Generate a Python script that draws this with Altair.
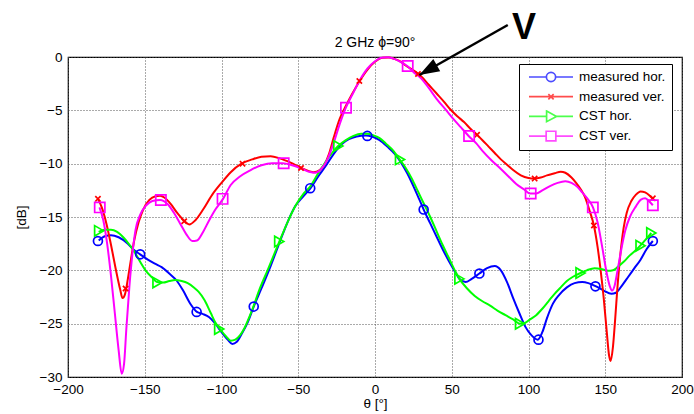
import altair as alt
import pandas as pd

# ---------------- data ----------------
series_names = ["measured hor.", "measured ver.", "CST hor.", "CST ver."]
series_colors = ["#0000FF", "#FF0000", "#00FF00", "#FF00FF"]

meas_hor = [
    (-180, -17.2), (-176, -16.8), (-172, -16.7), (-167, -16.9), (-161, -17.5), (-157, -18.1),
    (-153, -18.5), (-148, -19.0), (-143, -19.4), (-139, -19.7), (-134, -20.3), (-129, -21.0),
    (-125, -21.9), (-120, -23.2), (-116, -23.9), (-112, -24.1), (-108, -24.4), (-104, -25.0),
    (-100, -25.8), (-96, -26.5), (-93, -26.9), (-90, -26.7), (-87, -26.0), (-83, -24.9),
    (-79, -23.4), (-74, -21.7), (-68, -19.6), (-63, -17.7), (-57, -15.5), (-52, -14.0),
    (-47, -13.1), (-42, -12.3), (-37, -11.2), (-32, -10.2), (-27, -9.1), (-22, -8.2),
    (-17, -7.7), (-12, -7.45), (-6, -7.35), (-2, -7.45), (3, -7.8), (8, -8.4), (13, -9.1),
    (17, -9.9), (21, -10.9), (25, -12.1), (29, -13.4), (32, -14.4), (36, -15.6), (40, -16.8),
    (44, -18.0), (48, -19.1), (52, -20.1), (55, -20.8), (59, -21.1), (63, -20.8), (68, -20.3),
    (73, -19.8), (78, -19.6), (82, -20.0), (86, -21.1), (90, -22.6), (94, -24.0), (98, -25.3),
    (102, -26.1), (106, -26.5), (109, -25.8), (112, -24.5), (116, -23.1), (120, -22.3),
    (125, -21.6), (130, -21.2), (135, -21.1), (139, -21.2), (144, -21.5), (149, -21.9),
    (154, -22.2), (157, -22.1), (161, -21.4), (165, -20.6), (169, -19.8), (173, -19.0),
    (177, -18.0), (181, -17.25),
]
meas_ver = [
    (-180.5, -13.3), (-178, -14.1), (-175, -15.6), (-172, -17.6), (-169, -19.8), (-166, -21.8),
    (-164.5, -22.6), (-163, -22.3), (-161, -20.8), (-159, -19.0), (-157, -17.3), (-154, -15.5),
    (-151, -14.3), (-147, -13.4), (-143, -13.05), (-140, -13.0), (-137, -13.2), (-133, -13.8),
    (-129, -14.6), (-124, -15.4), (-121, -15.7), (-117, -15.3), (-112, -14.3), (-106, -12.9),
    (-100, -11.8), (-94, -10.8), (-87, -10.0), (-80, -9.6), (-74, -9.35), (-68, -9.3),
    (-62, -9.5), (-55, -9.9), (-48, -10.4), (-43, -10.7), (-40, -10.8), (-36, -10.6),
    (-33, -10.1), (-30, -9.1), (-27, -7.6), (-23, -5.8), (-19, -4.6), (-15, -3.5), (-10, -2.25),
    (-5, -1.2), (0, -0.45), (5, -0.08), (9, -0.05), (13, -0.2), (17, -0.45), (20, -0.8),
    (25, -1.25), (30, -1.8), (35, -2.6), (40, -3.4), (45, -4.2), (49, -4.9), (54, -5.6),
    (58, -6.1), (62, -6.7), (66.5, -7.3), (70, -7.8), (74, -8.4), (78, -9.0), (82, -9.6),
    (86, -10.1), (90, -10.6), (95, -11.1), (100, -11.35), (104, -11.4), (108, -11.3),
    (112, -11.1), (117, -10.9), (121, -10.75), (124, -10.85), (128, -11.3), (131, -11.8),
    (134, -12.4), (137, -13.2), (140, -14.5), (142.6, -15.8), (145, -17.8), (147, -20.0),
    (149, -22.6), (151, -25.8), (152.5, -28.0), (153.5, -28.5), (155, -27.2), (156.5, -24.5),
    (158, -21.5), (160, -18.3), (162, -16.0), (164, -14.6), (167, -13.5), (170, -12.9),
    (173, -12.6), (176, -12.7), (179, -13.0), (181, -13.3),
]
cst_hor = [
    (-180, -16.4), (-176, -16.2), (-172, -16.2), (-168, -16.4), (-164, -16.9), (-160, -17.6),
    (-157, -18.2), (-153, -19.2), (-149, -20.1), (-145, -20.7), (-142, -21.1), (-138, -21.15),
    (-134, -21.0), (-130, -20.9), (-126, -21.0), (-122, -21.2), (-118, -21.6), (-115, -22.0),
    (-111, -22.8), (-107, -24.0), (-104, -24.9), (-101, -25.5), (-97, -26.2), (-94, -26.6),
    (-91, -26.5), (-88, -26.1), (-85, -25.4), (-80, -23.7), (-75, -21.7), (-70, -20.0),
    (-66, -18.6), (-62, -17.2), (-57, -15.5), (-52, -14.0), (-47, -12.9), (-42, -12.1),
    (-37, -10.9), (-32, -9.8), (-28, -9.0), (-24, -8.35), (-19, -7.8), (-14, -7.4), (-9, -7.2),
    (-5, -7.2), (-1, -7.35), (3, -7.6), (7, -8.1), (12, -8.8), (16, -9.6), (20, -10.4),
    (24, -11.4), (28, -12.6), (32, -13.8), (36, -15.0), (40, -16.3), (44, -17.6), (48, -18.8),
    (52, -20.0), (55, -20.8), (60, -21.7), (65, -22.4), (70, -22.9), (75, -23.3), (80, -23.8),
    (85, -24.2), (90, -24.6), (94.5, -25.0), (98, -24.9), (101, -24.6), (105, -24.2),
    (109, -23.6), (113, -22.9), (117, -22.2), (121, -21.6), (125, -21.0), (129, -20.6),
    (134, -20.25), (138, -20.0), (143, -19.8), (148, -19.9), (152, -20.05), (155, -20.0),
    (158, -19.7), (162, -19.2), (166, -18.6), (170, -18.1), (174, -17.5), (177, -17.0),
    (180, -16.5),
]
cst_ver = [
    (-179.5, -14.1), (-177, -15.3), (-174.5, -17.5), (-172, -20.5), (-169.5, -24.0),
    (-167, -27.5), (-165, -29.7), (-163.5, -28.8), (-162, -25.5), (-160, -21.5), (-158, -18.4),
    (-156, -16.2), (-153, -14.8), (-149, -13.9), (-145, -13.5), (-140, -13.4), (-135, -13.8),
    (-131, -14.6), (-127, -15.6), (-123, -16.6), (-119, -17.25), (-116, -17.2), (-112, -16.4),
    (-108, -15.3), (-104, -14.3), (-99, -13.3), (-94, -12.0), (-88, -11.2), (-81, -10.6),
    (-74, -10.15), (-67, -9.95), (-60, -9.95), (-54, -10.15), (-48, -10.45), (-43, -10.75),
    (-39, -10.85), (-35, -10.5), (-31, -9.6), (-27, -8.1), (-23, -6.3), (-19, -4.75),
    (-15, -3.6), (-10, -2.2), (-5, -1.1), (0, -0.4), (4, -0.08), (8, -0.02), (12, -0.15),
    (16, -0.4), (21, -0.85), (25, -1.4), (30, -2.0), (35, -2.9), (40, -3.9), (47, -5.1),
    (51, -5.8), (56, -6.6), (61, -7.4), (66, -8.1), (70, -8.8), (76, -9.7), (82, -10.5),
    (87, -11.2), (92, -11.9), (97, -12.4), (101, -12.8), (105, -12.8), (109, -12.5),
    (114, -12.1), (119, -11.8), (124, -11.65), (128, -11.8), (132, -12.2), (135, -12.7),
    (139, -13.4), (142, -14.1), (145, -15.5), (148, -17.8), (151, -20.3), (153, -21.5),
    (154.5, -21.9), (156, -21.5), (158, -20.0), (160.5, -18.0), (163, -16.3), (166, -15.0),
    (170, -14.0), (173, -13.4), (176, -13.25), (179, -13.6), (181, -13.9),
]

# marker positions (theta, dB)
meas_hor_markers = [(-180.5, -17.25), (-153, -18.5), (-116.2, -23.9), (-79, -23.4), (-42.2, -12.3),
                    (-5, -7.4), (31.7, -14.3), (68, -20.3), (106.5, -26.5), (143.6, -21.5), (181, -17.25)]
meas_ver_markers = [(-180.5, -13.3), (-162.5, -21.7), (-124.3, -15.4), (-86.3, -10.0), (-48.2, -10.4),
                    (-10.2, -2.25), (28, -1.6), (66.5, -7.3), (104, -11.4), (142.6, -15.8), (181, -13.25)]
cst_hor_markers = [(-179.7, -16.3), (-141.7, -21.15), (-101.5, -25.5), (-62.4, -17.3), (-23.9, -8.35),
                   (16.3, -9.6), (55, -20.8), (94.5, -25.0), (133.9, -20.25), (173, -17.7), (180, -16.5)]
cst_ver_markers = [(-179.3, -14.1), (-139.5, -13.4), (-99.3, -13.3), (-59.5, -9.97), (-18.9, -4.75),
                   (21.3, -0.85), (61.3, -7.4), (101.4, -12.8), (141.9, -14.1), (181, -13.9)]

x_ticks = [-200, -150, -100, -50, 0, 50, 100, 150, 200]
y_ticks = [-30, -25, -20, -15, -10, -5, 0]

title_text = "2 GHz \u03d5=90\u00b0"
title_pos = (0.0, 0.94)
x_title = "\u03b8 [\u00b0]"
y_title = "[dB]"

# annotation: arrow from (theta, dB) to tip, and the "V" label
arrow_start = (86.5, 3.0)
arrow_tip = (28.9, -1.69)
v_label = (97.0, 1.69, "V")

# ---------------- build chart ----------------
curves = [meas_hor, meas_ver, cst_hor, cst_ver]
markers = [meas_hor_markers, meas_ver_markers, cst_hor_markers, cst_ver_markers]

font = "Liberation Sans"
xs = alt.Scale(domain=[-200, 200], nice=False, zero=False)
ys = alt.Scale(domain=[-30, 0], nice=False, zero=False)
cs = alt.Scale(domain=series_names, range=series_colors)

x_axis = alt.Axis(values=x_ticks, title=x_title, grid=True, ticks=False, domain=False,
                  labelFont=font, labelFontSize=13.5, labelColor="black", labelPadding=5,
                  labelFlush=False,
                  titleFont=font, titleFontSize=13.5, titleFontWeight="normal", titleColor="black",
                  titleX=307, titleY=26, titleBaseline="middle", titleAlign="center")
y_axis = alt.Axis(values=y_ticks, title=y_title, grid=True, ticks=False, domain=False,
                  labelFont=font, labelFontSize=13.5, labelColor="black", labelPadding=6,
                  labelFlush=False,
                  titleFont=font, titleFontSize=13.5, titleFontWeight="normal", titleColor="black",
                  titleX=-47, titleY=160, titleAngle=270, titleBaseline="middle", titleAlign="center")

line_layers = []
for idx, (name, pts, col) in enumerate(zip(series_names, curves, series_colors)):
    ldf = pd.DataFrame({"theta": [p[0] for p in pts], "db": [p[1] for p in pts]})
    if idx == 0:
        enc_x = alt.X("theta:Q", scale=xs, axis=x_axis)
        enc_y = alt.Y("db:Q", scale=ys, axis=y_axis)
    else:
        enc_x = alt.X("theta:Q", scale=xs)
        enc_y = alt.Y("db:Q", scale=ys)
    line_layers.append(
        alt.Chart(ldf).mark_line(strokeWidth=2, interpolate="monotone", color=col).encode(
            x=enc_x, y=enc_y, order="theta:Q")
    )

x_path = "M-1,-1L1,1M-1,1L1,-1"
marker_shapes = ["circle", x_path, "triangle-right", "square"]
marker_sizes = [80, 28, 110, 105]
marker_layers = []
for name, pts, shp, sz, col in zip(series_names, markers, marker_shapes, marker_sizes, series_colors):
    mdf = pd.DataFrame({"theta": [p[0] for p in pts], "db": [p[1] for p in pts]})
    marker_layers.append(
        alt.Chart(mdf).mark_point(filled=False, strokeWidth=1.7, shape=shp, size=sz, color=col,
                                  opacity=1).encode(
            x=alt.X("theta:Q", scale=xs), y=alt.Y("db:Q", scale=ys))
    )

# legend-only layer (its points lie outside the domain and are clipped away)
legend_paths = [
    "M-1,0H-0.21M0.21,0H1M0.21,0A0.21,0.21 0 1,1 -0.21,0A0.21,0.21 0 1,1 0.21,0Z",
    "M-1,0H1M-0.12,-0.12L0.12,0.12M-0.12,0.12L0.12,-0.12",
    "M-1,0H-0.2M0.25,0H1M-0.2,-0.24L0.25,0L-0.2,0.24Z",
    "M-1,0H-0.22M0.22,0H1M-0.22,-0.22H0.22V0.22H-0.22Z",
]
leg_df = pd.DataFrame({"series": series_names, "theta": [-1000] * 4, "db": [-1000] * 4})
legend_layer = alt.Chart(leg_df).mark_point(filled=False, clip=True, strokeWidth=1.7).encode(
    x=alt.X("theta:Q", scale=xs),
    y=alt.Y("db:Q", scale=ys),
    color=alt.Color("series:N", scale=cs, legend=alt.Legend(
        title=None, orient="none", legendX=451, legendY=7,
        symbolSize=1936, symbolStrokeWidth=1.7, symbolFillColor="transparent",
        labelFont=font, labelFontSize=13.5, labelColor="black", labelOffset=5,
        padding=6, strokeColor="black", fillColor="white",
        clipHeight=14, rowPadding=5.7, symbolOffset=3)),
    shape=alt.Shape("series:N", scale=alt.Scale(domain=series_names, range=legend_paths)),
)

# arrow annotation
arr_df = pd.DataFrame({"theta": [arrow_start[0], arrow_tip[0]], "db": [arrow_start[1], arrow_tip[1]]})
arrow_line = alt.Chart(arr_df).mark_line(color="black", strokeWidth=2.5).encode(
    x=alt.X("theta:Q", scale=xs), y=alt.Y("db:Q", scale=ys))
head_df = pd.DataFrame({"theta": [arrow_tip[0]], "db": [arrow_tip[1]]})
arrow_head = alt.Chart(head_df).mark_point(
    shape="M0,0L-2,-0.7L-2,0.7Z", filled=True, color="black", size=400, angle=150.5, opacity=1
).encode(x=alt.X("theta:Q", scale=xs), y=alt.Y("db:Q", scale=ys))

v_df = pd.DataFrame({"theta": [v_label[0]], "db": [v_label[1]], "txt": [v_label[2]]})
v_text = alt.Chart(v_df).mark_text(font=font, fontSize=36, fontWeight="bold", color="black",
                                   align="center", baseline="alphabetic").encode(
    x=alt.X("theta:Q", scale=xs), y=alt.Y("db:Q", scale=ys), text="txt:N")

t_df = pd.DataFrame({"theta": [title_pos[0]], "db": [title_pos[1]], "txt": [title_text]})
title_mark = alt.Chart(t_df).mark_text(font=font, fontSize=14, color="black",
                                       align="center", baseline="alphabetic").encode(
    x=alt.X("theta:Q", scale=xs), y=alt.Y("db:Q", scale=ys), text="txt:N")

chart = alt.layer(*line_layers, *marker_layers, legend_layer, arrow_line, arrow_head, v_text,
                  title_mark).properties(
    width=614, height=320,
    background="white",
    padding={"left": 68, "top": 57, "right": 12, "bottom": 37},
    autosize=alt.AutoSizeParams(type="none"),
).configure_view(stroke="black", strokeWidth=1.2).configure_axis(
    gridColor="#555555", gridDash=[1, 2], gridWidth=1, gridOpacity=1
)

chart.save("out.html", embed_options={"renderer": "svg", "actions": False})
